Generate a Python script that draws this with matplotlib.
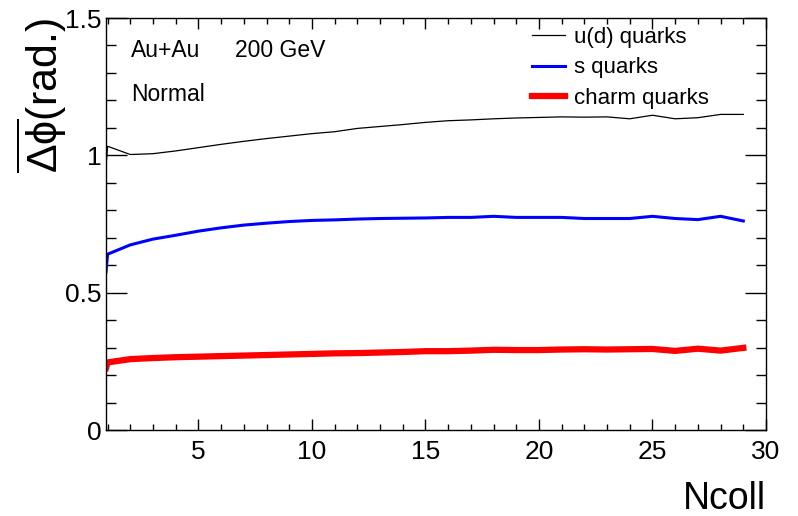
"""Mean azimuthal deflection vs Ncoll for light, strange and charm quarks (Au+Au 200 GeV)."""
import matplotlib
matplotlib.use("Agg")
import matplotlib.pyplot as plt
from matplotlib.ticker import MultipleLocator, FuncFormatter

plt.rcParams["font.family"] = ["Liberation Sans", "DejaVu Sans"]
plt.rcParams["mathtext.fontset"] = "custom"
plt.rcParams["mathtext.rm"] = "Liberation Sans"
plt.rcParams["mathtext.it"] = "Liberation Sans"

# Ncoll values (first point sits on the left frame edge)
ncoll = [0.93] + list(range(1, 30))

ud_quarks = [0.96, 1.033, 1.003, 1.006, 1.016, 1.028, 1.040, 1.051, 1.061, 1.070,
             1.079, 1.086, 1.098, 1.105, 1.112, 1.120, 1.126, 1.129, 1.133, 1.136,
             1.138, 1.140, 1.139, 1.140, 1.133, 1.146, 1.133, 1.137, 1.149, 1.149]
s_quarks = [0.576, 0.640, 0.674, 0.695, 0.709, 0.724, 0.736, 0.746, 0.753, 0.759,
            0.763, 0.765, 0.768, 0.770, 0.771, 0.772, 0.774, 0.774, 0.778, 0.774,
            0.774, 0.774, 0.770, 0.770, 0.770, 0.778, 0.770, 0.766, 0.778, 0.761]
charm_quarks = [0.226, 0.246, 0.258, 0.262, 0.265, 0.267, 0.269, 0.271, 0.273, 0.275,
                0.277, 0.279, 0.280, 0.282, 0.284, 0.287, 0.287, 0.289, 0.292, 0.291,
                0.291, 0.293, 0.294, 0.293, 0.294, 0.295, 0.288, 0.296, 0.289, 0.299]

labels = ["u(d) quarks", "s quarks", "charm quarks"]

W, H = 798, 516
fig = plt.figure(figsize=(W / 100, H / 100), dpi=100)
ax = fig.add_axes([106 / W, 1 - 430 / H, 660 / W, 412 / H])

ax.plot(ncoll, ud_quarks, color="black", lw=0.9, label=labels[0])
ax.plot(ncoll, s_quarks, color="#0000ff", lw=2.2, label=labels[1])
ax.plot(ncoll, charm_quarks, color="#ff0000", lw=4.5, label=labels[2])

ax.set_xlim(0.93, 30)
ax.set_ylim(0, 1.5)
ax.xaxis.set_major_locator(MultipleLocator(5))
ax.xaxis.set_minor_locator(MultipleLocator(1))
ax.yaxis.set_major_locator(MultipleLocator(0.5))
ax.yaxis.set_minor_locator(MultipleLocator(0.1))
ax.yaxis.set_major_formatter(FuncFormatter(lambda v, p: f"{v:g}"))

ax.tick_params(which="both", direction="in", top=True, right=True, width=1.0)
ax.tick_params(axis="x", which="major", length=8, pad=7, labelsize=19)
ax.tick_params(axis="x", which="minor", length=4.3)
ax.tick_params(axis="y", which="major", length=15, pad=3, labelsize=19)
ax.tick_params(axis="y", which="minor", length=7.2)
for sp in ax.spines.values():
    sp.set_linewidth(1.0)

fig.text(766 / W, 1 - 509 / H, "Ncoll", ha="right", va="baseline", fontsize=27)
fig.text(42 / W, 1 - 18 / H, r"$\overline{\Delta\phi}$(rad.)", rotation=90,
         ha="center", va="top", fontsize=31)

fig.text(131 / W, 1 - 57 / H, "Au+Au", ha="left", va="baseline", fontsize=16.5)
fig.text(235 / W, 1 - 57 / H, "200 GeV", ha="left", va="baseline", fontsize=16.5)
fig.text(131 / W, 1 - 101 / H, "Normal", ha="left", va="baseline", fontsize=16.5)

ax.legend(loc="upper left", bbox_to_anchor=(532 / W, 1 - 27 / H),
          bbox_transform=fig.transFigure, frameon=False, fontsize=16,
          handlelength=1.5, handletextpad=0.4, labelspacing=0.42,
          borderpad=0, borderaxespad=0)

fig.savefig("out.png", dpi=100)
